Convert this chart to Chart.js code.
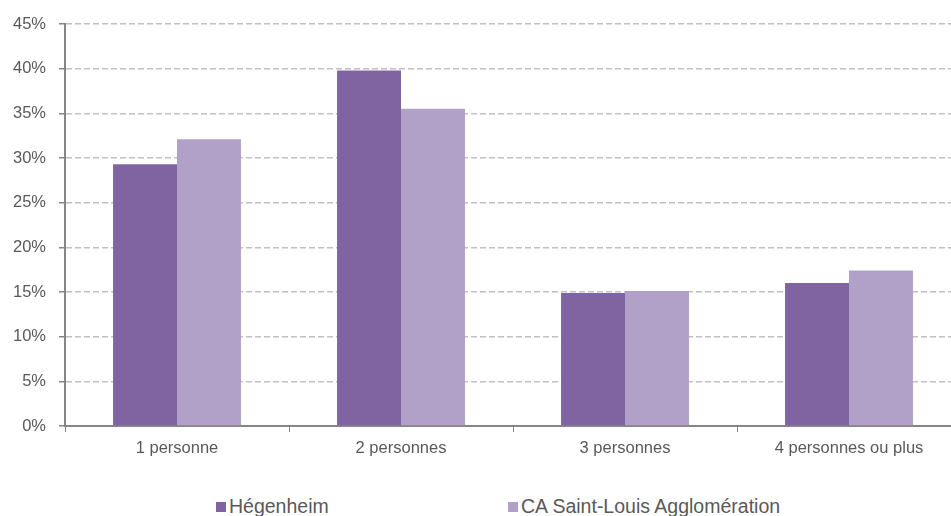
<!DOCTYPE html>
<html lang="fr">
<head>
<meta charset="utf-8">
<title>Taille des ménages</title>
<script src="https://cdn.jsdelivr.net/npm/chart.js@4/dist/chart.umd.min.js"></script>
<style>
    html, body { margin: 0; padding: 0; background: #fff; overflow: hidden; }
    #conteneur { position: relative; width: 951px; height: 516px; overflow: hidden; }
    /* la zone du graphique déborde un peu à droite, comme dans l'original */
    #zone-graphique { position: absolute; left: 0; top: 0; width: 961px; height: 472px; }
    #legende { position: absolute; left: 0; top: 493px; width: 951px; height: 26px;
               font-family: "Liberation Sans", Arial, sans-serif; font-size: 19.5px; color: #595959; }
    #legende span.item { position: absolute; top: 0; line-height: 26px; white-space: nowrap; }
    #legende span.carre { display: inline-block; width: 10px; height: 10px; margin-right: 3px; vertical-align: 1px; }
</style>
</head>
<body>
<div id="conteneur">
    <div id="zone-graphique"><canvas id="graphique-menages"></canvas></div>
    <div id="legende"></div>
</div>
<script>
// Données
const categories = ["1 personne", "2 personnes", "3 personnes", "4 personnes ou plus"];
const nomsSeries = ["Hégenheim", "CA Saint-Louis Agglomération"];
const valeursHegenheim = [29.3, 39.8, 14.9, 16.0];
const valeursCA = [32.1, 35.5, 15.1, 17.4];
const graduations = [0, 5, 10, 15, 20, 25, 30, 35, 40, 45];

const couleurs = ["#8064A2", "#B1A0C7"];
const gris = "#595959";

const data = {
    labels: categories,
    datasets: [
        { label: nomsSeries[0], data: valeursHegenheim, backgroundColor: couleurs[0] },
        { label: nomsSeries[1], data: valeursCA, backgroundColor: couleurs[1] },
    ],
};

const config = {
    type: "bar",
    data: data,
    options: {
        responsive: true,
        maintainAspectRatio: false,
        animation: false,
        layout: { padding: { top: 24, right: 0, left: 0, bottom: 0 } },
        datasets: {
            bar: { barPercentage: 1, categoryPercentage: 0.571 }
        },
        plugins: {
            legend: { display: false },
            tooltip: { enabled: false },
        },
        scales: {
            x: {
                grid: {
                    display: true,
                    offset: true,
                    drawOnChartArea: false,
                    drawTicks: true,
                    tickLength: 6,
                    tickColor: "#868686",
                },
                border: { display: true, color: "#868686", width: 2 },
                ticks: {
                    color: gris,
                    padding: 7,
                    font: { family: "Liberation Sans", size: 16.5 },
                },
                afterFit: function (scale) { scale.height = 46; },
            },
            y: {
                min: 0,
                max: 45,
                afterBuildTicks: function (scale) {
                    scale.ticks = graduations.map(v => ({ value: v }));
                },
                grid: {
                    color: "#C0C0C0",
                    lineWidth: 1.5,
                    drawTicks: true,
                    tickLength: 6,
                    tickColor: "#868686",
                    tickBorderDash: [],
                },
                // en v4, border.dash s'applique aux lignes du quadrillage
                border: { display: true, color: "#868686", width: 2, dash: [6, 3] },
                ticks: {
                    color: gris,
                    padding: 13,
                    font: { family: "Liberation Sans", size: 16.5 },
                    callback: v => v + "%",
                },
                afterFit: function (scale) { scale.width = 65; },
            },
        },
    },
};

const graphique = new Chart(document.querySelector("#graphique-menages"), config);

// Légende construite en HTML pour reproduire l'écart entre les deux entrées
const positionsLegende = [216, 508];
const legende = document.querySelector("#legende");
for (let i = 0; i < nomsSeries.length; i++) {
    const item = document.createElement("span");
    item.className = "item";
    item.style.left = positionsLegende[i] + "px";
    item.innerHTML = `<span class="carre" style="background:${couleurs[i]}"></span>${nomsSeries[i]}`;
    legende.appendChild(item);
}
</script>
</body>
</html>
